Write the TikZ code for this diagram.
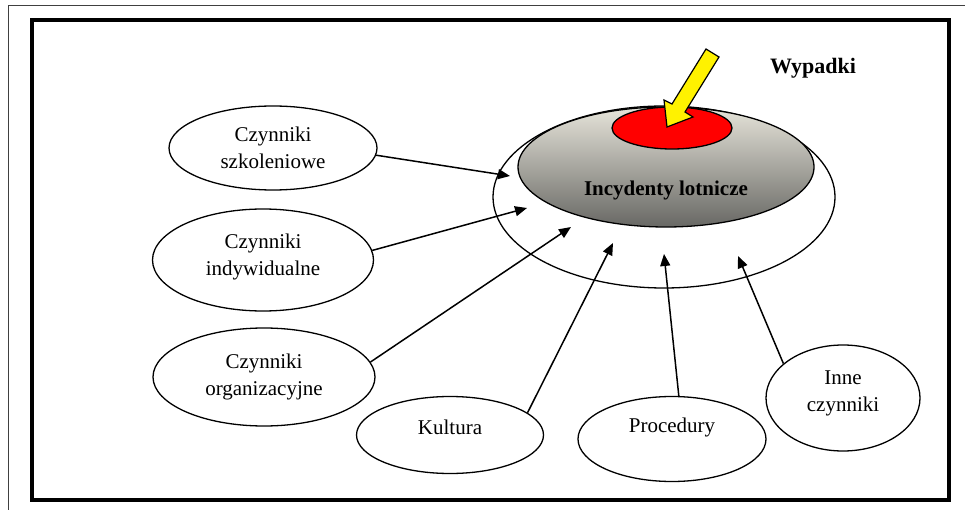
\documentclass[tikz,border=0pt]{standalone}
\usepackage{fontspec}
\setmainfont{Liberation Serif}
\usetikzlibrary{arrows.meta, calc, positioning, shapes.geometric}
\definecolor{greytop}{RGB}{230,228,218}
\definecolor{greybot}{RGB}{104,104,100}

\begin{document}
\begin{tikzpicture}[% styles used in image code
           x = 1pt, y = -1pt, % pixel units, y downwards
           > = {Triangle[length=12pt, width=10pt]}, % defined in "arrows.meta"
 fac/.style = {ellipse, draw, line width=1.3pt, inner sep=0pt},
 lbl/.style = {font=\fontsize{21}{27}\selectfont, align=center},
 arr/.style = {->, line width=1.5pt}
                    ]
\useasboundingbox (0,0) rectangle (965,510);
	% frames
	\draw[line width=1pt, black!75] (8,510) -- (8,6) -- (965,6);
	\draw[line width=4.5pt] (32,20) rectangle (949,500);

	% incidents and accidents
	\node[fac, fill=white, minimum width=342pt, minimum height=182pt] (out) at (664,197) {};
	\node[fac, top color=greytop, bottom color=greybot,
	      minimum width=296pt, minimum height=120pt,
	      label={[lbl, font=\bfseries\fontsize{21}{27}\selectfont, yshift=-23pt]center:Incydenty lotnicze}] (inc) at (666,167) {};
	\node[fac, fill=red, minimum width=120pt, minimum height=42pt] (acc) at (672,128) {};
	\node[lbl, font=\bfseries\fontsize{22}{27}\selectfont] (wyp) at (813,68) {Wypadki};
	\draw[line width=1.2pt, fill=yellow, line join=miter]
	    (706,49) -- (672,104) -- (664,100) -- (667,127)
	    -- (693,117) -- (685,112) -- (719,57) -- cycle;

	% factors
	\node[fac, minimum width=208pt, minimum height=84pt,
	      label={[lbl]center:Czynniki\\szkoleniowe}] (szk) at (273,148) {};
	\node[fac, minimum width=221pt, minimum height=102pt,
	      label={[lbl, yshift=3pt]center:Czynniki\\indywidualne}] (ind) at (263,260) {};
	\node[fac, minimum width=222pt, minimum height=98pt,
	      label={[lbl]center:Czynniki\\organizacyjne}] (org) at (264,377) {};
	\node[fac, minimum width=187pt, minimum height=77pt,
	      label={[lbl, yshift=8pt]center:Kultura}] (kul) at (450,435) {};
	\node[fac, minimum width=188pt, minimum height=85pt,
	      label={[lbl, yshift=12pt]center:Procedury}] (pro) at (672,439) {};
	\node[fac, minimum width=154pt, minimum height=106pt,
	      label={[lbl, yshift=5pt]center:Inne\\czynniki}] (inn) at (843,398) {};

	% arrow ends
	\coordinate (t1) at (510,176);
	\coordinate (t2) at (527,208);
	\coordinate (t3) at (571,227);
	\coordinate (t4) at (613,243);
	\coordinate (t5) at (664,254);
	\coordinate (t6) at (738,256);

	\draw[arr] (szk.-4)  -- (t1);
	\draw[arr] (ind.5)   -- (t2);
	\draw[arr] (org.8)   -- (t3);
	\draw[arr] (kul.16)  -- (t4);
	\draw[arr] (pro.81)  -- (t5);
	\draw[arr] (inn.150) -- (t6);
\end{tikzpicture}
\end{document}
